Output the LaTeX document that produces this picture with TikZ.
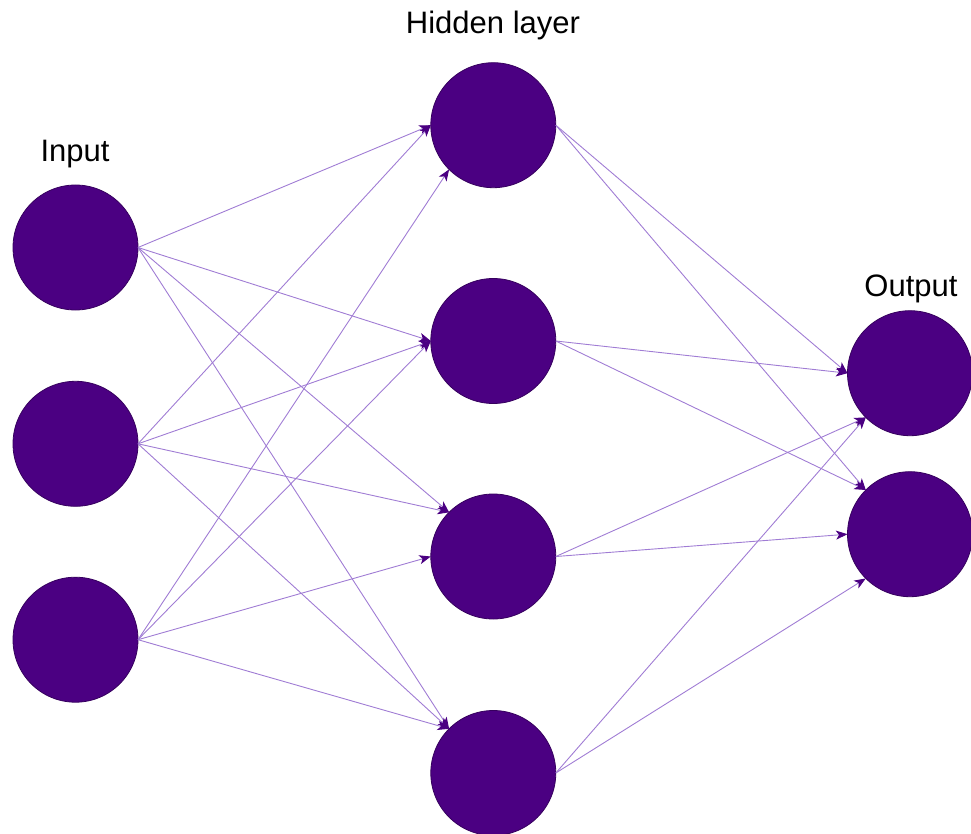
\documentclass[tikz,border=0pt]{standalone}
\usepackage{fontspec}
\setmainfont{Liberation Sans}
\usetikzlibrary{arrows.meta}
\definecolor{neuron}{HTML}{4B0082}
\definecolor{neuronline}{HTML}{36005E}
\definecolor{edgecol}{HTML}{A07CD4}
\tikzset{
  neuronnode/.style={circle, fill=neuron, draw=neuronline, line width=0.8pt, minimum size=125pt, inner sep=0pt, outer sep=0pt},
  labelnode/.style={anchor=base, inner sep=0pt, font=\fontsize{31}{36}\selectfont},
  conn/.style={draw=edgecol, line width=0.9pt, -{Stealth[length=11.5pt, width=9pt, inset=3pt, color=neuron]}}
}
\begin{document}
\begin{tikzpicture}[x=1pt, y=-1pt]
\useasboundingbox (0,0) rectangle (971,834);
\clip (0,0) rectangle (971,834);
% neurons
\node[neuronnode] (i1) at (75.5,247.5) {};
\node[neuronnode] (i2) at (75.5,443.8) {};
\node[neuronnode] (i3) at (75.5,639.7) {};
\node[neuronnode] (h1) at (493.3,125.2) {};
\node[neuronnode] (h2) at (493.3,341) {};
\node[neuronnode] (h3) at (493.3,556.5) {};
\node[neuronnode] (h4) at (493.3,773) {};
\node[neuronnode] (o1) at (910,373.2) {};
\node[neuronnode] (o2) at (910,534.2) {};
% labels
\node[labelnode] (tin) at (75,161.7) {Input};
\node[labelnode] (thid) at (493,34) {Hidden layer};
\node[labelnode] (tout) at (911,296.7) {Output};
% input -> hidden
\draw[conn] (i1.east) -- (h1.west);
\draw[conn] (i2.east) -- (h1.west);
\draw[conn] (i3.east) -- (h1.south west);
\draw[conn] (i1.east) -- (h2.west);
\draw[conn] (i2.east) -- (h2.west);
\draw[conn] (i3.east) -- (h2.west);
\draw[conn] (i1.east) -- (h3.north west);
\draw[conn] (i2.east) -- (h3.north west);
\draw[conn] (i3.east) -- (h3.west);
\draw[conn] (i1.east) -- (h4.north west);
\draw[conn] (i2.east) -- (h4.north west);
\draw[conn] (i3.east) -- (h4.north west);
% hidden -> output
\draw[conn] (h1.east) -- (o1.west);
\draw[conn] (h2.east) -- (o1.west);
\draw[conn] (h3.east) -- (o1.south west);
\draw[conn] (h4.east) -- (o1.south west);
\draw[conn] (h1.east) -- (o2.north west);
\draw[conn] (h2.east) -- (o2.north west);
\draw[conn] (h3.east) -- (o2.west);
\draw[conn] (h4.east) -- (o2.south west);
\end{tikzpicture}
\end{document}
